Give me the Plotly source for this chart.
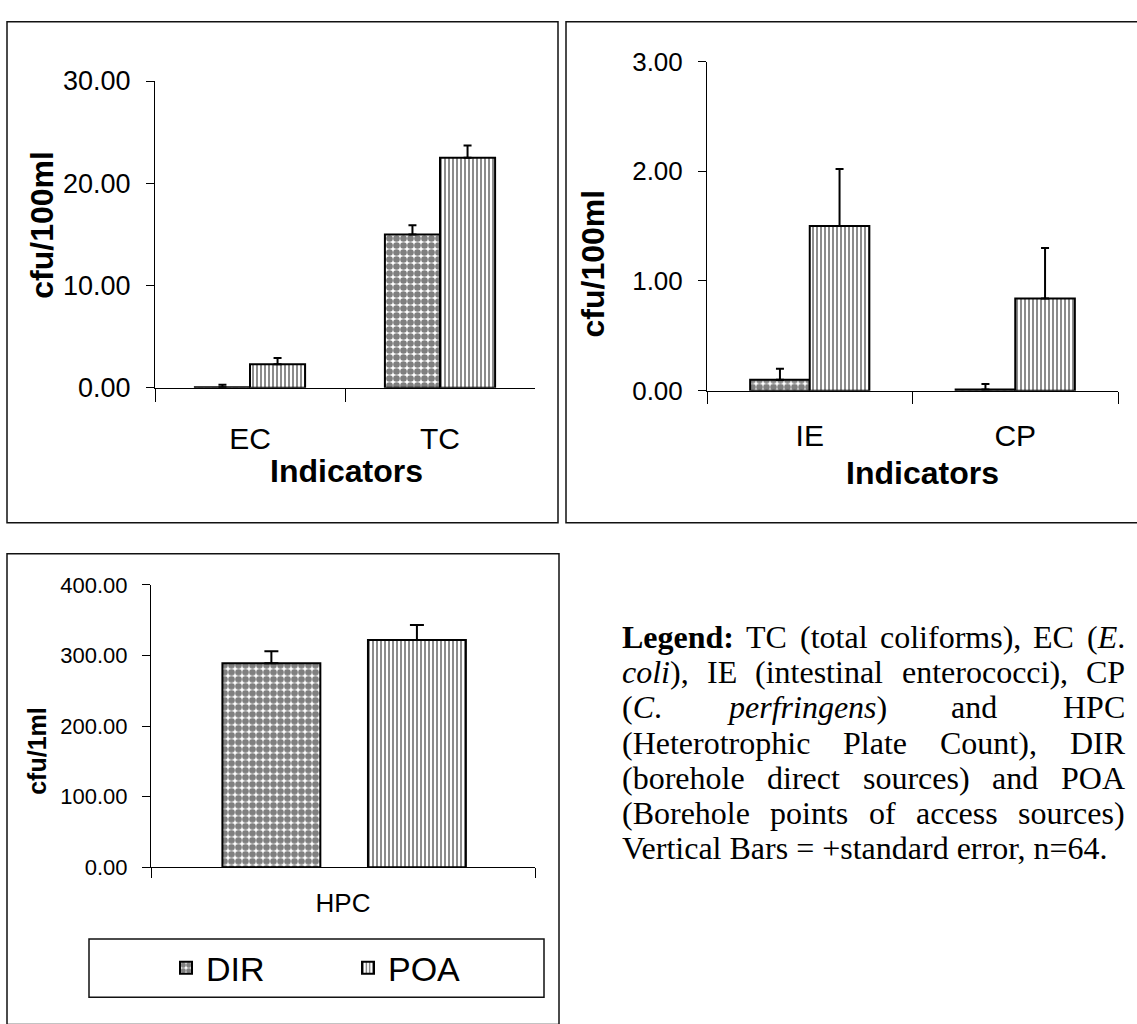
import re
import plotly.graph_objects as go

W, H = 1137, 1024
SANS = "Liberation Sans, Arial, sans-serif"
SERIF = "Liberation Serif, Times New Roman, serif"

# ---------------- data ----------------
series_names = ["DIR", "POA"]

cats_top_left = ["EC", "TC"]
dir_top_left = [0.05, 15.0]
dir_top_left_se = [0.25, 0.9]
poa_top_left = [2.3, 22.5]
poa_top_left_se = [0.6, 1.2]
yticks_top_left = [0, 10, 20, 30]

cats_top_right = ["IE", "CP"]
dir_top_right = [0.10, 0.01]
dir_top_right_se = [0.10, 0.05]
poa_top_right = [1.50, 0.84]
poa_top_right_se = [0.52, 0.46]
yticks_top_right = [0, 1, 2, 3]

cats_bottom = ["HPC"]
dir_bottom = [289.0]
dir_bottom_se = [17.0]
poa_bottom = [322.0]
poa_bottom_se = [21.0]
yticks_bottom = [0, 100, 200, 300, 400]

ytitle_top = "cfu/100ml"
ytitle_bottom = "cfu/1ml"
xtitle_top = "Indicators"

# paragraph lines (justified except the last)
legend_lines = [
    ["<b>Legend:</b>", "TC", "(total", "coliforms),", "EC", "(<i>E</i>."],
    ["<i>coli</i>),", "IE", "(intestinal", "enterococci),", "CP"],
    ["(<i>C</i>.", "<i>perfringens</i>)", "and", "HPC"],
    ["(Heterotrophic", "Plate", "Count),", "DIR"],
    ["(borehole", "direct", "sources)", "and", "POA"],
    ["(Borehole", "points", "of", "access", "sources)"],
    ["Vertical Bars = +standard error, n=64."],
]

# ---------------- helpers ----------------
def fx(px):
    return px / W

def fy(py):
    return 1 - py / H

# Times New Roman advance widths (per 1000 em) for text justification
TNR = {' ': 250, '(': 333, ')': 333, ',': 250, '.': 250, ':': 278, '=': 564, '+': 564,
       'a': 444, 'b': 500, 'c': 444, 'd': 500, 'e': 444, 'f': 333, 'g': 500, 'h': 500, 'i': 278,
       'l': 278, 'm': 778, 'n': 500, 'o': 500, 'p': 500, 'r': 333, 's': 389, 't': 278, 'u': 500,
       'A': 722, 'B': 667, 'C': 667, 'D': 722, 'E': 611, 'H': 722, 'I': 333, 'L': 611, 'O': 722,
       'P': 556, 'R': 667, 'T': 611, 'V': 722}
TNR_I = {'C': 667, 'E': 611, 'c': 444, 'o': 500, 'l': 278, 'i': 278, 'p': 500, 'e': 444,
         'r': 389, 'f': 278, 'n': 500, 'g': 500, 's': 389}
TNR_B = {'L': 667, 'e': 444, 'g': 500, 'n': 556, 'd': 556, ':': 333}

def text_width(markup, size):
    total = 0.0
    for m in re.finditer(r"<(b|i)>(.*?)</\1>|([^<]+)", markup):
        tag = m.group(1)
        body = m.group(2) if tag else m.group(3)
        table = TNR_B if tag == "b" else TNR_I if tag == "i" else TNR
        for ch in body:
            total += table.get(ch, TNR.get(ch, 500))
    return total / 1000.0 * size

DIR_STYLE = dict(color="white", line=dict(color="black", width=2),
                 pattern=dict(shape=".", fgcolor="black", bgcolor="white", size=7, solidity=0.7))
POA_STYLE = dict(color="white", line=dict(color="black", width=2),
                 pattern=dict(shape="|", fgcolor="black", bgcolor="white", size=4, solidity=0.45))

def err(se, w):
    return dict(type="data", array=se, arrayminus=[0] * len(se), symmetric=False,
                color="black", thickness=2, width=w)

fig = go.Figure()

# top-left
fig.add_trace(go.Bar(x=cats_top_left, y=dir_top_left, name=series_names[0], marker=DIR_STYLE,
                     error_y=err(dir_top_left_se, 4), xaxis="x", yaxis="y", showlegend=False))
fig.add_trace(go.Bar(x=cats_top_left, y=poa_top_left, name=series_names[1], marker=POA_STYLE,
                     error_y=err(poa_top_left_se, 4), xaxis="x", yaxis="y", showlegend=False))
# top-right
fig.add_trace(go.Bar(x=cats_top_right, y=dir_top_right, name=series_names[0], marker=DIR_STYLE,
                     error_y=err(dir_top_right_se, 4), xaxis="x2", yaxis="y2", showlegend=False))
fig.add_trace(go.Bar(x=cats_top_right, y=poa_top_right, name=series_names[1], marker=POA_STYLE,
                     error_y=err(poa_top_right_se, 4), xaxis="x2", yaxis="y2", showlegend=False))
# bottom
fig.add_trace(go.Bar(x=cats_bottom, y=dir_bottom, name=series_names[0], marker=DIR_STYLE,
                     width=0.255, offset=-0.314,
                     error_y=err(dir_bottom_se, 7), xaxis="x3", yaxis="y3", showlegend=True))
fig.add_trace(go.Bar(x=cats_bottom, y=poa_bottom, name=series_names[1], marker=POA_STYLE,
                     width=0.255, offset=0.065,
                     error_y=err(poa_bottom_se, 7), xaxis="x3", yaxis="y3", showlegend=True))

def xax(dom, anchor, rng, fsize, ticklen, standoff):
    return dict(domain=dom, anchor=anchor, type="category", range=rng,
                showline=True, linecolor="black", linewidth=1, mirror=False,
                ticks="outside", tickson="boundaries", ticklen=ticklen, tickcolor="black",
                tickwidth=1, showgrid=False, zeroline=False, fixedrange=True,
                tickfont=dict(family=SANS, size=fsize, color="black"),
                ticklabelstandoff=standoff)

def yax(dom, anchor, rng, tickvals, fsize):
    return dict(domain=dom, anchor=anchor, range=rng, tickmode="array", tickvals=tickvals,
                tickformat=".2f", showline=True, linecolor="black", linewidth=1,
                ticks="outside", ticklen=8, tickcolor="black", tickwidth=1,
                showgrid=False, zeroline=False, fixedrange=True,
                tickfont=dict(family=SANS, size=fsize, color="black"),
                ticklabelstandoff=10)

layout = dict(
    width=W, height=H, margin=dict(l=0, r=0, t=0, b=0),
    paper_bgcolor="white", plot_bgcolor="white",
    barmode="group", bargap=0.42, bargroupgap=0,
    xaxis=xax([fx(155), fx(535)], "y", [-0.5, 1.5], 30, 13, 24),
    yaxis=yax([fy(384), fy(68)], "x", [0, 30], yticks_top_left, 27),
    xaxis2=xax([fx(707), fx(1118)], "y2", [-0.5, 1.5], 30, 12, 18),
    yaxis2=yax([fy(387), fy(48)], "x2", [0, 3], yticks_top_right, 26),
    xaxis3=xax([fx(151), fx(535)], "y3", [-0.5, 0.5], 26, 10, 13),
    yaxis3=yax([fy(878), fy(587)], "x3", [0, 400], yticks_bottom, 22),
    legend=dict(orientation="h", x=fx(166), y=fy(982), xanchor="left", yanchor="middle",
                font=dict(family=SANS, size=34, color="black"), bgcolor="rgba(0,0,0,0)",
                borderwidth=0, entrywidth=137, entrywidthmode="pixels", traceorder="normal"),
    showlegend=True,
)
fig.update_layout(**layout)

# panel frames and legend box
frames = [(7, 7, 558, 523), (566, 7, 1150, 523), (7, 555, 559, 1040), (89, 952, 544, 1012)]
for (x0, y0, x1, y1) in frames:
    fig.add_shape(type="rect", xref="paper", yref="paper", x0=fx(x0), x1=fx(x1), y0=fy(y1), y1=fy(y0),
                  line=dict(color="#111", width=1.5), fillcolor="rgba(0,0,0,0)", layer="below")

ann = []
# axis titles
ann.append(dict(text=f"<b>{ytitle_top}</b>", x=fx(42), y=fy(216), textangle=-90,
                font=dict(family=SANS, size=32, color="black")))
ann.append(dict(text=f"<b>{ytitle_top}</b>", x=fx(592), y=fy(256), textangle=-90,
                font=dict(family=SANS, size=32, color="black")))
ann.append(dict(text=f"<b>{ytitle_bottom}</b>", x=fx(37), y=fy(758), textangle=-90,
                font=dict(family=SANS, size=25, color="black")))
ann.append(dict(text=f"<b>{xtitle_top}</b>", x=fx(346), y=fy(470),
                font=dict(family=SANS, size=32, color="black")))
ann.append(dict(text=f"<b>{xtitle_top}</b>", x=fx(922), y=fy(472),
                font=dict(family=SANS, size=32, color="black")))

# paragraph: justified word placement
PX0, PX1, PSIZE = 621, 1124, 32
line_y = [641, 677, 713, 750, 786, 822, 858]
for i, (words, yy) in enumerate(zip(legend_lines, line_y)):
    if len(words) == 1 or i == len(legend_lines) - 1:
        ann.append(dict(text=" ".join(words), x=fx(PX0), y=fy(yy), xanchor="left",
                        font=dict(family=SERIF, size=PSIZE, color="black")))
        continue
    widths = [text_width(w, PSIZE) for w in words]
    gap = (PX1 - PX0 - sum(widths)) / (len(words) - 1)
    xpos = PX0
    for w, wd in zip(words, widths):
        ann.append(dict(text=w, x=fx(xpos), y=fy(yy), xanchor="left",
                        font=dict(family=SERIF, size=PSIZE, color="black")))
        xpos += wd + gap

for a in ann:
    a.update(xref="paper", yref="paper", showarrow=False, borderpad=0)
    a.setdefault("xanchor", "center")
    a.setdefault("yanchor", "middle")
fig.update_layout(annotations=ann)

fig.write_html("out.html")
